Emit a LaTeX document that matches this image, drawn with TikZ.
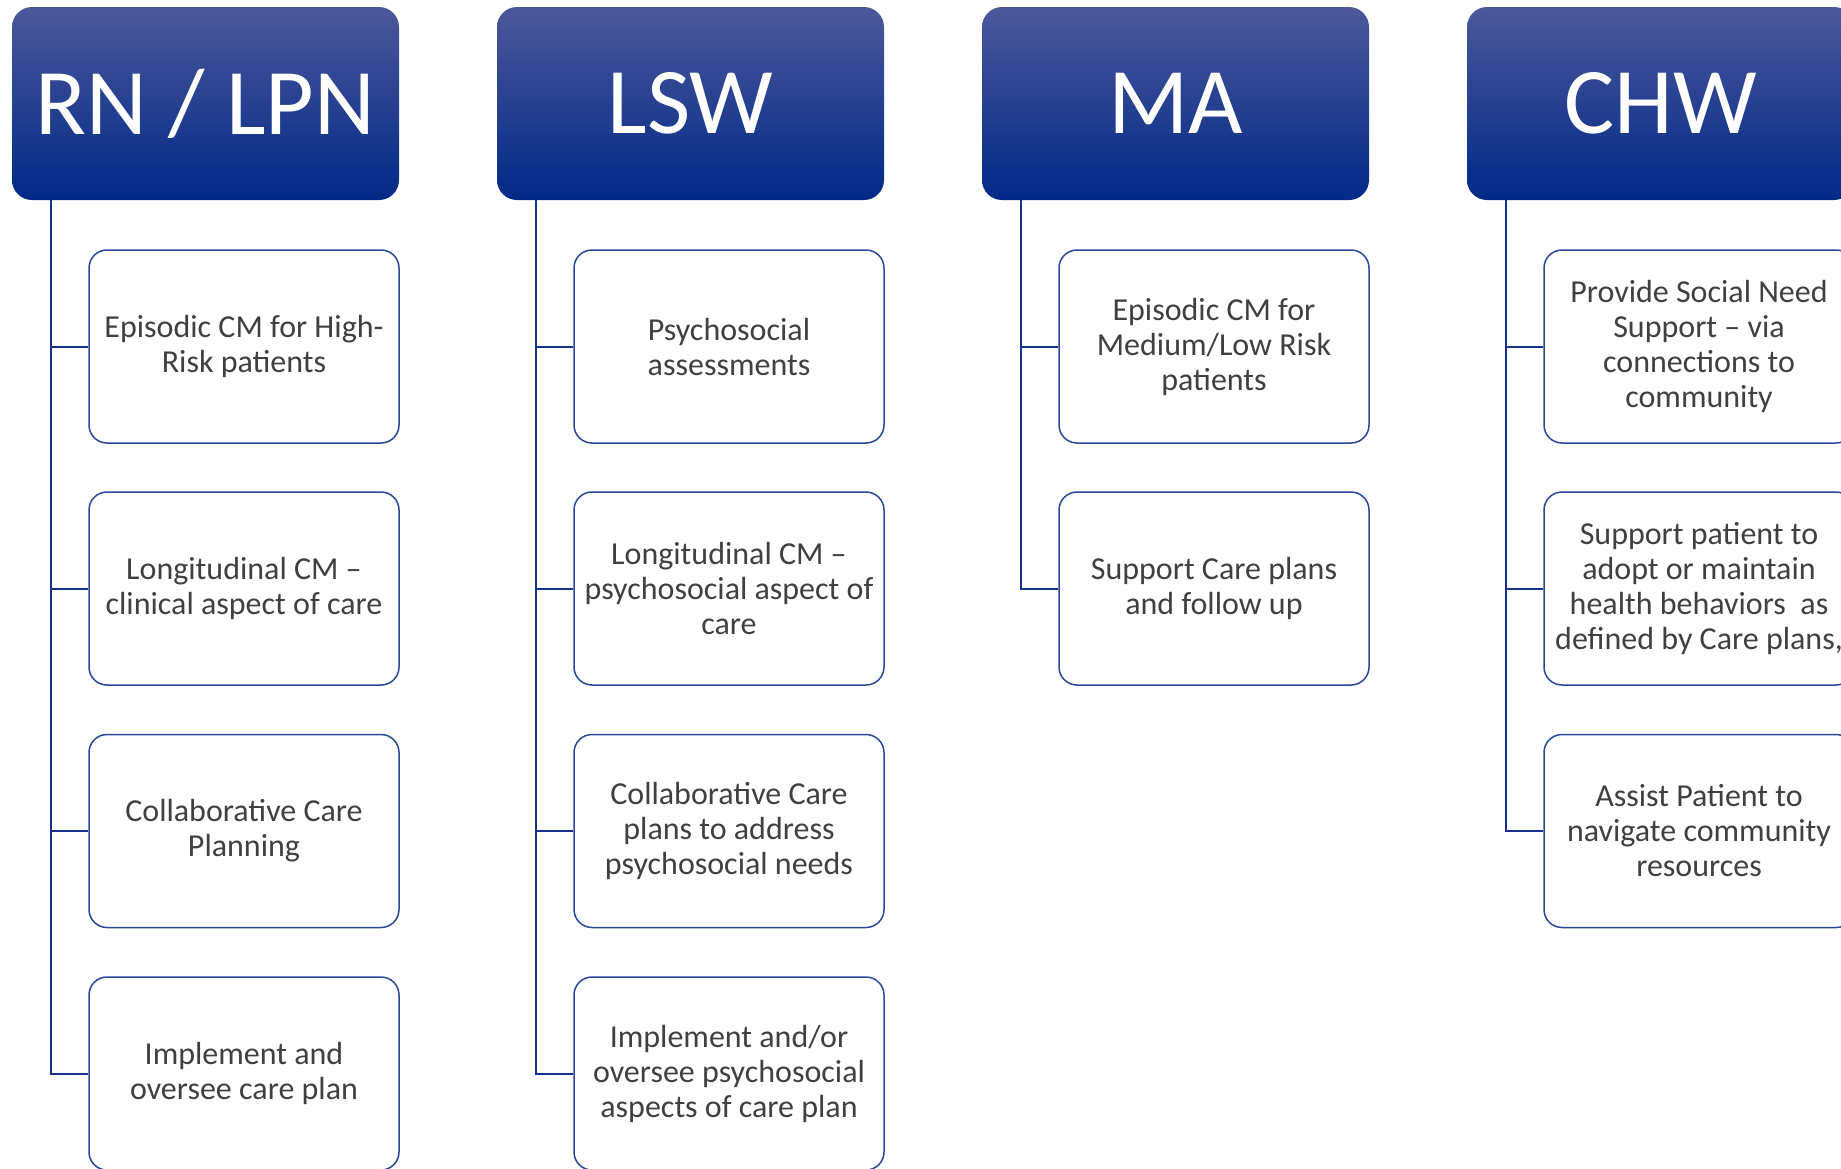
\documentclass[tikz,border=0pt]{standalone}
\usepackage{fontspec}
\setmainfont{Carlito}

\definecolor{roleTop}{RGB}{76,88,154}
\definecolor{roleBot}{RGB}{0,41,135}
\definecolor{taskEdge}{RGB}{40,72,152}
\definecolor{taskText}{RGB}{64,64,64}
\definecolor{linkBlue}{RGB}{20,50,140}

\begin{document}
\begin{tikzpicture}[x=0.5pt, y=-0.5pt,
    role/.style={rounded corners=10pt, top color=roleTop, middle color=roleBot, bottom color=roleBot,
      minimum width=193.5pt, minimum height=96.5pt, inner sep=0pt, text=white,
      font=\fontsize{47}{50}\selectfont},
    task/.style={draw=taskEdge, line width=0.75pt, rounded corners=9pt, fill=white,
      minimum width=155pt, minimum height=96.5pt, inner sep=0pt, align=center, text=taskText,
      font=\fontsize{16}{17.5}\selectfont},
    link/.style={draw=linkBlue, line width=1pt}]
  \clip (0,0) rectangle (1841,1168);

  % role headers
  \node[role] (rn)  at (205.5,103.5)  {RN / LPN};
  \node[role] (lsw) at (690.5,103.5)  {LSW};
  \node[role] (ma)  at (1175.5,103.5) {MA};
  \node[role] (chw) at (1660.5,103.5) {CHW};

  % trunk tops under each header
  \coordinate (rnT)  at (50.5,200);
  \coordinate (lswT) at (535.5,200);
  \coordinate (maT)  at (1020.5,200);
  \coordinate (chwT) at (1505.5,200);

  % RN / LPN tasks
  \node[task] (rn1) at (244,346.5)  {Episodic CM for High-\\Risk patients};
  \node[task] (rn2) at (244,588.5)  {Longitudinal CM --\\clinical aspect of care};
  \node[task] (rn3) at (244,831)    {Collaborative Care\\Planning};
  \node[task] (rn4) at (244,1073.5) {Implement and\\oversee care plan};

  % LSW tasks
  \node[task] (lsw1) at (729,346.5)  {Psychosocial\\assessments};
  \node[task] (lsw2) at (729,588.5)  {Longitudinal CM --\\psychosocial aspect of\\care};
  \node[task] (lsw3) at (729,831)    {Collaborative Care\\plans to address\\psychosocial needs};
  \node[task] (lsw4) at (729,1073.5) {Implement and/or\\oversee psychosocial\\aspects of care plan};

  % MA tasks
  \node[task] (ma1) at (1214,346.5) {Episodic CM for\\Medium/Low Risk\\patients};
  \node[task] (ma2) at (1214,588.5) {Support Care plans\\and follow up};

  % CHW tasks
  \node[task] (chw1) at (1699,346.5) {Provide Social Need\\Support -- via\\connections to\\community};
  \node[task] (chw2) at (1699,588.5) {Support patient to\\adopt or maintain\\health behaviors~ as\\defined by Care plans,};
  \node[task] (chw3) at (1699,831)   {Assist Patient to\\navigate community\\resources};

  % elbow links from trunks to tasks
  \foreach \t in {rn1,rn2,rn3,rn4}    \draw[link] (rnT) |- (\t.west);
  \foreach \t in {lsw1,lsw2,lsw3,lsw4} \draw[link] (lswT) |- (\t.west);
  \foreach \t in {ma1,ma2}            \draw[link] (maT) |- (\t.west);
  \foreach \t in {chw1,chw2,chw3}     \draw[link] (chwT) |- (\t.west);
\end{tikzpicture}
\end{document}
